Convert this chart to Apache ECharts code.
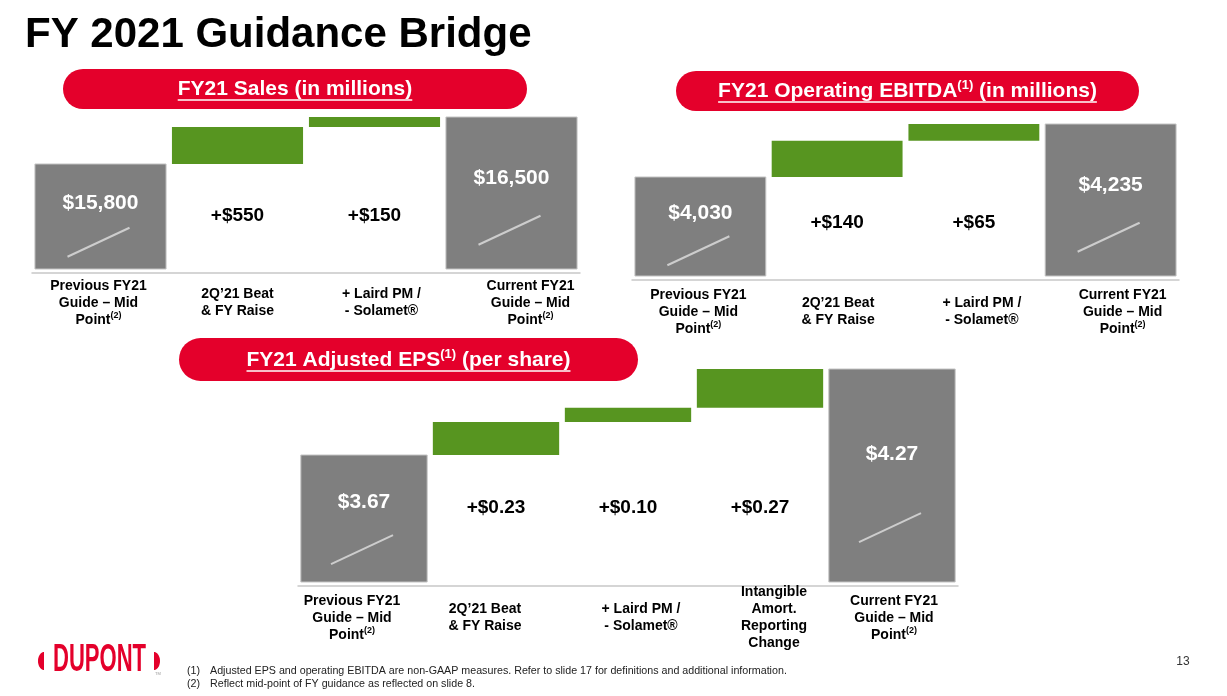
<!DOCTYPE html>
<html><head><meta charset="utf-8">
<script src="https://cdn.jsdelivr.net/npm/echarts@6/dist/echarts.min.js"></script>
<style>html,body{margin:0;padding:0;background:#fff}#c{width:1227px;height:696px}</style>
</head><body><div id="c"></div>
<script>
const FONT = '"Liberation Sans", Arial, Helvetica, sans-serif';

// ---- data ----
const salesCategories = ['Previous FY21\nGuide – Mid\nPoint(2)', '2Q’21 Beat\n& FY Raise', '+ Laird PM /\n- Solamet®', 'Current FY21\nGuide – Mid\nPoint(2)'];
const salesValues = [15800, 550, 150, 16500];
const salesLabels = ['$15,800', '+$550', '+$150', '$16,500'];

const ebitdaCategories = ['Previous FY21\nGuide – Mid\nPoint(2)', '2Q’21 Beat\n& FY Raise', '+ Laird PM /\n- Solamet®', 'Current FY21\nGuide – Mid\nPoint(2)'];
const ebitdaValues = [4030, 140, 65, 4235];
const ebitdaLabels = ['$4,030', '+$140', '+$65', '$4,235'];

const epsCategories = ['Previous FY21\nGuide – Mid\nPoint(2)', '2Q’21 Beat\n& FY Raise', '+ Laird PM /\n- Solamet®', 'Intangible\nAmort.\nReporting\nChange', 'Current FY21\nGuide – Mid\nPoint(2)'];
const epsValues = [3.67, 0.23, 0.10, 0.27, 4.27];
const epsLabels = ['$3.67', '+$0.23', '+$0.10', '+$0.27', '$4.27'];

// truncated value-axis floors (the slide's bars do not start at zero)
const salesFloor = 14236;
const ebitdaFloor = 3647;
const epsFloor = 2.784;

// layout only: horizontal nudge (px) of each category text box under its bar
const salesLabelShift = [-2, 0, 7, 19];
const ebitdaLabelShift = [-2, 1, 8, 12];
const epsLabelShift = [-12, -11, 13, 14, 2];

// ---- helpers ----
function bridge(values, floor) {
  let run = 0; const out = [];
  values.forEach((v, i) => {
    if (i === 0) { run = v; out.push([i, floor, v, 0]); }
    else if (i === values.length - 1) { out.push([i, floor, v, 0]); }
    else { out.push([i, run, run + v, 1]); run += v; }
  });
  return out;
}

function makeRender(labels) {
  return function (params, api) {
    const i = api.value(0), lo = api.value(1), hi = api.value(2), kind = api.value(3);
    const top = api.coord([i, hi]), bot = api.coord([i, lo]);
    const bw = api.size([1, 0])[0] * 0.957;
    const x = top[0] - bw / 2, y = top[1], h = bot[1] - top[1];
    const cs = params.coordSys;
    const children = [];
    if (kind === 0) {
      children.push({ type: 'rect', shape: { x: x, y: y, width: bw, height: h },
        style: { fill: '#7f7f7f', stroke: '#c4c4c4', lineWidth: 1 } });
      const cy = y + h * 0.745;
      children.push({ type: 'line', shape: { x1: top[0] - 33, y1: cy + 14.5, x2: top[0] + 29, y2: cy - 14.5 },
        style: { stroke: '#cdcdcd', lineWidth: 2 } });
      const ly = y + h * (i === 0 ? 0.37 : 0.40);
      children.push({ type: 'text', style: { text: labels[params.dataIndex], x: top[0], y: ly,
        fill: '#ffffff', font: 'bold 21px ' + FONT, align: 'center', verticalAlign: 'middle' } });
    } else {
      children.push({ type: 'rect', shape: { x: x, y: y, width: bw, height: h },
        style: { fill: '#579520' } });
      children.push({ type: 'text', style: { text: labels[params.dataIndex], x: top[0], y: cs.y + cs.height * 0.65,
        fill: '#000000', font: 'bold 19px ' + FONT, align: 'center', verticalAlign: 'middle' } });
    }
    return { type: 'group', children: children };
  };
}

function xAxisFor(idx, cats, shifts, margin) {
  return {
    type: 'category', gridIndex: idx, offset: 4,
    data: cats.map((c, k) => ({ value: c, textStyle: {
      verticalAlign: 'middle', lineHeight: 17,
      padding: shifts[k] >= 0 ? [0, 0, 0, 2 * shifts[k]] : [0, -2 * shifts[k], 0, 0] } })),
    axisTick: { show: false },
    axisLine: { lineStyle: { color: '#c8c8c8', width: 1.5 } },
    axisLabel: {
      interval: 0, margin: margin, verticalAlign: 'middle',
      color: '#000', fontFamily: FONT, fontWeight: 'bold', fontSize: 14, lineHeight: 17,
      formatter: v => v.replace('(2)', '{sup|(2)}'),
      rich: { sup: { fontSize: 9, fontWeight: 'bold', fontFamily: FONT, color: '#000', lineHeight: 10, verticalAlign: 'top' } }
    }
  };
}
function yAxisFor(idx, min, max) {
  return { type: 'value', gridIndex: idx, min: min, max: max, show: false, splitLine: { show: false } };
}

// text measuring for underlines
const mctx = document.createElement('canvas').getContext('2d');
function tw(t, size) { mctx.font = 'bold ' + size + 'px ' + FONT; return mctx.measureText(t).width; }

function pill(x, y, w, h, parts, cy) {
  const cx = x + w / 2;
  const width = tw(parts[0], 21) + (parts[1] ? tw(parts[1], 13) : 0) + (parts[2] ? tw(parts[2], 21) : 0);
  const text = parts[0] + (parts[1] ? '{sup|' + parts[1] + '}' : '') + (parts[2] || '');
  return [
    { type: 'rect', shape: { x: x, y: y, width: w, height: h, r: h / 2 }, style: { fill: '#e4002b' } },
    { type: 'text', style: { text: text, x: cx, y: cy, fill: '#fff', font: 'bold 21px ' + FONT,
      textAlign: 'center', textVerticalAlign: 'middle', lineHeight: 24,
      rich: { sup: { fontSize: 13, fontWeight: 'bold', fontFamily: FONT, fill: '#fff', lineHeight: 12, verticalAlign: 'top' } } } },
    { type: 'line', shape: { x1: cx - width / 2, y1: cy + 11, x2: cx + width / 2, y2: cy + 11 }, style: { stroke: '#fff', lineWidth: 1.6 } }
  ];
}

function halfEllipse(cx, cy, rx, ry, dir) {
  const pts = [];
  for (let k = 0; k <= 20; k++) {
    const a = -Math.PI / 2 + Math.PI * k / 20;
    pts.push([cx + dir * rx * Math.cos(a), cy + ry * Math.sin(a)]);
  }
  return pts;
}

const chart = echarts.init(document.getElementById('c'), null, { renderer: 'canvas' });

const graphics = [
  { type: 'text', style: { text: 'FY 2021 Guidance Bridge', x: 25, y: 35, fill: '#000', font: 'bold 42px ' + FONT, textAlign: 'left', textVerticalAlign: 'middle' } },
  ...pill(63, 69, 464, 40, ['FY21 Sales (in millions)'], 89),
  ...pill(676, 71, 463, 40, ['FY21 Operating EBITDA', '(1)', ' (in millions)'], 91),
  ...pill(179, 338, 459, 43, ['FY21 Adjusted EPS', '(1)', ' (per share)'], 360),
  // footnotes
  { type: 'text', style: { text: '(1)', x: 187, y: 671, fill: '#222', font: '10.7px ' + FONT, textAlign: 'left', textVerticalAlign: 'middle' } },
  { type: 'text', style: { text: 'Adjusted EPS and operating EBITDA are non-GAAP measures. Refer to slide 17 for definitions and additional information.', x: 210, y: 671, fill: '#222', font: '10.7px ' + FONT, textAlign: 'left', textVerticalAlign: 'middle' } },
  { type: 'text', style: { text: '(2)', x: 187, y: 684, fill: '#222', font: '10.7px ' + FONT, textAlign: 'left', textVerticalAlign: 'middle' } },
  { type: 'text', style: { text: 'Reflect mid-point of FY guidance as reflected on slide 8.', x: 210, y: 684, fill: '#222', font: '10.7px ' + FONT, textAlign: 'left', textVerticalAlign: 'middle' } },
  // page number
  { type: 'text', style: { text: '13', x: 1183, y: 662, fill: '#333', font: '12px ' + FONT, textAlign: 'center', textVerticalAlign: 'middle' } },
  // logo
  { type: 'polygon', shape: { points: halfEllipse(44, 661, 6, 9, -1) }, style: { fill: '#e4002b' } },
  { type: 'polygon', shape: { points: halfEllipse(154, 661, 6, 9, 1) }, style: { fill: '#e4002b' } },
  { type: 'text', x: 99.5, y: 660, scaleX: 0.565, style: { text: 'DUPONT', x: 0, y: 0, fill: '#e4002b', font: 'bold 39px ' + FONT, textAlign: 'center', textVerticalAlign: 'middle' } },
  { type: 'text', style: { text: 'TM', x: 158, y: 674, fill: '#999', font: '4px ' + FONT, textAlign: 'center', textVerticalAlign: 'middle' } }
];

chart.setOption({
  animation: false,
  backgroundColor: '#fff',
  grid: [
    { left: 32, top: 117, width: 548, height: 152, outerBoundsMode: 'none' },
    { left: 632, top: 124, width: 547, height: 152, outerBoundsMode: 'none' },
    { left: 298, top: 369, width: 660, height: 213, outerBoundsMode: 'none' }
  ],
  xAxis: [xAxisFor(0, salesCategories, salesLabelShift, 30), xAxisFor(1, ebitdaCategories, ebitdaLabelShift, 32), xAxisFor(2, epsCategories, epsLabelShift, 32)],
  yAxis: [yAxisFor(0, salesFloor, salesValues[salesValues.length - 1]),
          yAxisFor(1, ebitdaFloor, ebitdaValues[ebitdaValues.length - 1]),
          yAxisFor(2, epsFloor, epsValues[epsValues.length - 1])],
  series: [
    { type: 'custom', xAxisIndex: 0, yAxisIndex: 0, renderItem: makeRender(salesLabels), data: bridge(salesValues, salesFloor) },
    { type: 'custom', xAxisIndex: 1, yAxisIndex: 1, renderItem: makeRender(ebitdaLabels), data: bridge(ebitdaValues, ebitdaFloor) },
    { type: 'custom', xAxisIndex: 2, yAxisIndex: 2, renderItem: makeRender(epsLabels), data: bridge(epsValues, epsFloor) }
  ],
  graphic: { elements: graphics }
});
</script></body></html>
